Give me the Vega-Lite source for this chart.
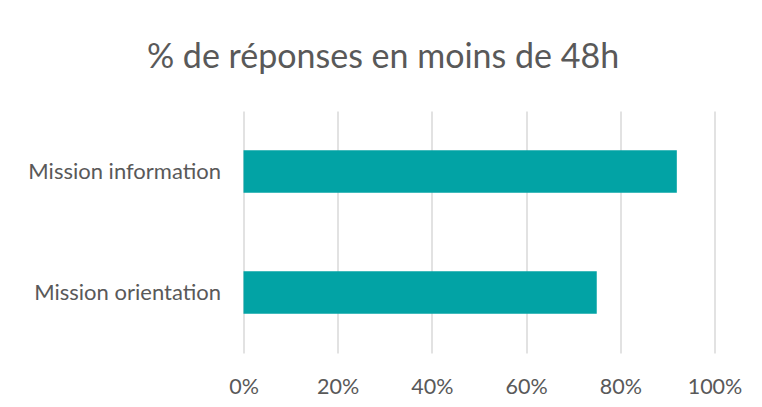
{
  "$schema": "https://vega.github.io/schema/vega-lite/v6.json",
  "width": 471,
  "height": 242,
  "autosize": "none",
  "padding": {"left": 243.5, "top": 111, "right": 47.5, "bottom": 54},
  "background": "white",
  "title": {
    "text": "% de réponses en moins de 48h",
    "font": "Lato",
    "fontSize": 34,
    "fontWeight": "normal",
    "color": "#595959",
    "anchor": "middle",
    "dx": -96,
    "offset": 36
  },
  "data": {
    "values": [
      {"mission": "Mission information", "pct": 0.92},
      {"mission": "Mission orientation", "pct": 0.75}
    ]
  },
  "mark": {"type": "bar", "color": "#02A3A5"},
  "encoding": {
    "y": {
      "field": "mission",
      "type": "nominal",
      "sort": null,
      "scale": {"paddingInner": 0.65, "paddingOuter": 0.325},
      "axis": {
        "title": null,
        "ticks": false,
        "domain": false,
        "labelFont": "Lato",
        "labelFontSize": 22,
        "labelColor": "#595959",
        "labelPadding": 23,
        "labelLimit": 300
      }
    },
    "x": {
      "field": "pct",
      "type": "quantitative",
      "scale": {"domain": [0, 1]},
      "axis": {
        "title": null,
        "format": ".0%",
        "values": [0, 0.2, 0.4, 0.6, 0.8, 1],
        "ticks": false,
        "domain": false,
        "grid": true,
        "gridColor": "#d9d9d9",
        "gridWidth": 1.5,
        "labelFlush": false,
        "labelFont": "Lato",
        "labelFontSize": 21.5,
        "labelColor": "#595959",
        "labelPadding": 23
      }
    }
  },
  "config": {"view": {"stroke": null}}
}
